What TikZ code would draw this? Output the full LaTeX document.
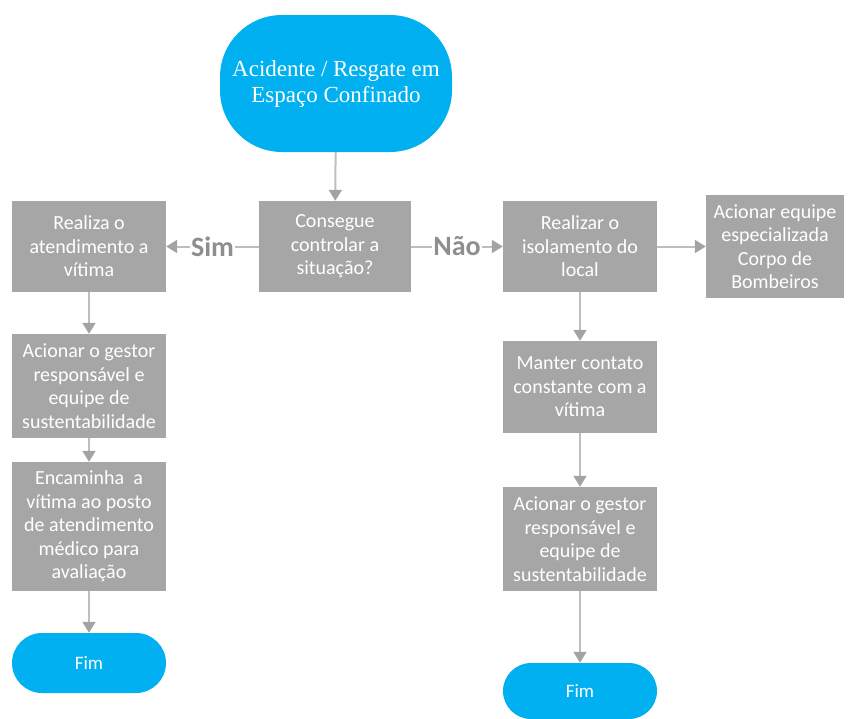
\documentclass[tikz,border=0pt]{standalone}
\usepackage{fontspec}
\setmainfont{Carlito}
\newfontfamily\serifont{Liberation Serif}
\usetikzlibrary{arrows.meta}
\definecolor{fcblue}{HTML}{00B0F0}
\definecolor{boxgray}{HTML}{A6A6A6}
\definecolor{linegray}{HTML}{BEBEBE}
\definecolor{tipgray}{HTML}{A3A3A3}
\definecolor{labgray}{HTML}{8E8E8E}
\tikzset{
  procbox/.style={draw=none, fill=boxgray, text=white, align=center, inner sep=1pt,
    font=\fontsize{20}{23.5}\selectfont},
  termbox/.style={draw=none, fill=fcblue, text=white, align=center,
    font=\fontsize{19}{22}\selectfont},
  conn/.style={draw=linegray, line width=2pt,
    -{Triangle[width=13pt,length=11pt,color=tipgray]}},
  lab/.style={fill=white, text=labgray, inner sep=1.5pt,
    font=\fontsize{28}{30}\bfseries\selectfont}
}
\begin{document}
\begin{tikzpicture}[x=1pt,y=-1pt]
\useasboundingbox (0,0) rectangle (854,718);
% terminals
\node[termbox, minimum width=232pt, minimum height=137pt, rounded corners=62pt,
  font=\serifont\fontsize{23}{26}\selectfont] (start) at (336,83.5)
  {Acidente / Resgate em\\Espaço Confinado};
% middle row
\node[procbox, minimum width=152pt, minimum height=91pt] (q) at (335,246.5)
  {Consegue\\controlar a\\situação?};
\node[procbox, minimum width=154pt, minimum height=91pt] (l1) at (89,246.5)
  {Realiza o\\atendimento a\\vítima};
\node[procbox, minimum width=154pt, minimum height=91pt] (r1) at (580,246.5)
  {Realizar o\\isolamento do\\local};
\node[procbox, minimum width=138pt, minimum height=103pt] (bomb) at (775,246.5)
  {Acionar equipe\\especializada\\Corpo de\\Bombeiros};
% left column
\node[procbox, minimum width=154pt, minimum height=104pt] (l2) at (89,386)
  {Acionar o gestor\\responsável e\\equipe de\\sustentabilidade};
\node[procbox, minimum width=154pt, minimum height=129pt] (l3) at (89,526.5)
  {Encaminha\ \ a\\vítima ao posto\\de atendimento\\médico para\\avaliação};
\node[termbox, minimum width=154pt, minimum height=60pt, rounded corners=30pt] (lend) at (89,663)
  {Fim};
% right column
\node[procbox, minimum width=154pt, minimum height=92pt] (r2) at (580,387)
  {Manter contato\\constante com a\\vítima};
\node[procbox, minimum width=154pt, minimum height=104pt] (r3) at (580,539)
  {Acionar o gestor\\responsável e\\equipe de\\sustentabilidade};
\node[termbox, minimum width=154pt, minimum height=56pt, rounded corners=28pt] (rend) at (580,691)
  {Fim};
% connectors
\draw[conn] (start) -- (q);
\draw[conn] (q) -- node[lab] {Sim} (l1);
\draw[conn] (q) -- node[lab] {Não} (r1);
\draw[conn] (r1) -- (bomb);
\draw[conn] (l1) -- (l2);
\draw[conn] (l2) -- (l3);
\draw[conn] (l3) -- (lend);
\draw[conn] (r1) -- (r2);
\draw[conn] (r2) -- (r3);
\draw[conn] (r3) -- (rend);
\end{tikzpicture}
\end{document}
